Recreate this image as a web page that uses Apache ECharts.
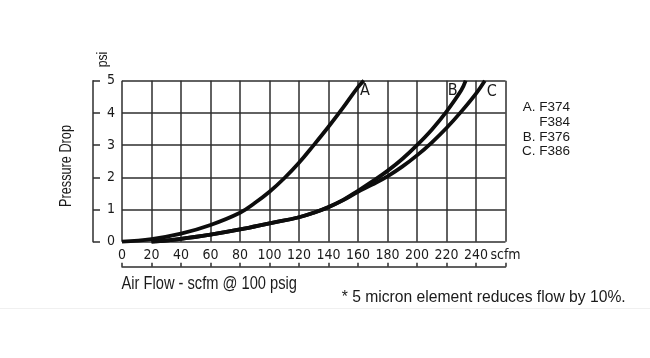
<!DOCTYPE html>
<html><head><meta charset="utf-8">
<script src="https://cdn.jsdelivr.net/npm/echarts@6/dist/echarts.min.js"></script>
<style>html,body{margin:0;padding:0;background:#fff}#c{width:650px;height:358px}</style>
</head><body><div id="c"></div>
<script>
// Air flow (scfm) vs pressure drop (psi)
var curveA = [[0,0],[20,0.08],[40,0.25],[60,0.52],[80,0.9],[90,1.2],[100,1.55],[110,1.97],[120,2.45],[130,3.0],[140,3.57],[150,4.17],[160,4.8],[164,5.0]];
var curveB = [[20,0],[40,0.09],[60,0.22],[80,0.38],[100,0.57],[120,0.76],[130,0.9],[140,1.08],[150,1.3],[160,1.58],[170,1.88],[180,2.2],[190,2.57],[200,3.0],[210,3.48],[220,4.04],[230,4.7],[233,5.0]];
var curveC = [[20,0],[40,0.09],[60,0.22],[80,0.38],[100,0.57],[120,0.76],[130,0.9],[140,1.07],[150,1.29],[160,1.55],[170,1.78],[180,2.03],[190,2.33],[200,2.68],[210,3.08],[220,3.53],[230,4.04],[240,4.6],[246,5.0]];
var curveNames = ['A','B','C'];
var xTicks = [0,20,40,60,80,100,120,140,160,180,200,220,240];
var xUnit = 'scfm';
var yTicks = [0,1,2,3,4,5];
var legendLines = ['A. F374','F384','B. F376','C. F386'];
var xTitle = 'Air Flow - scfm @ 100 psig';
var yTitle = 'Pressure Drop';
var yUnit = 'psi';
var footnote = '* 5 micron element reduces flow by 10%.';

var AXFONT = "'DejaVu Sans Condensed','Liberation Sans',sans-serif";
var GFONT = "'Liberation Sans',Arial,sans-serif";
var TXT = '#1a1a1a';
var GRID = '#2e2e2e';

var mctx = document.createElement('canvas').getContext('2d');
function fitScale(text, size, width){
  mctx.font = size + 'px ' + GFONT;
  return width / mctx.measureText(text).width;
}
function gtext(text, size, x, y, width, opts){
  opts = opts || {};
  var s = fitScale(text, size, width);
  return {type:'text', x:x, y:y, rotation:opts.rot||0, scaleX:s, scaleY:1, silent:true,
    style:{text:text, fill:TXT, font:size+'px '+GFONT, align:opts.align||'left', verticalAlign:'middle'}};
}

var chart = echarts.init(document.getElementById('c'), null, {renderer:'canvas'});
function mkSeries(name, data, off){
  return {type:'line', name:name, data:data, showSymbol:false, smooth:0.4,
    lineStyle:{color:'#0d0d0d', width:3.8}, clip:false,
    endLabel:{show:true, formatter:name, color:TXT, fontFamily:AXFONT, fontSize:16, offset:off, distance:0}};
}
var legendScale = fitScale(legendLines[0], 13.7, 47.3);
var graphics = [
  gtext(yUnit, 14, 103, 59.5, 15.6, {rot:Math.PI/2, align:'center'}),
  gtext(yTitle, 16.5, 66, 166, 82, {rot:Math.PI/2, align:'center'}),
  gtext(xTitle, 17.5, 121.5, 284.2, 175.5),
  gtext(footnote, 17, 341.7, 297.5, 284),
  {type:'line', silent:true, shape:{x1:0, y1:308.5, x2:650, y2:308.5}, style:{stroke:'#f0f0f0', lineWidth:1}}
];
legendLines.forEach(function(t, i){
  graphics.push({type:'text', x:570, y:107.5 + i*14.7, scaleX:legendScale, silent:true,
    style:{text:t, fill:TXT, font:'13.7px '+GFONT, align:'right', verticalAlign:'middle'}});
});

chart.setOption({
  animation:false,
  backgroundColor:'#fff',
  grid:{left:122, right:144.5, top:80.7, bottom:116.3},
  xAxis:{type:'value', min:0, max:260, interval:20, offset:25,
    axisLine:{show:true, onZero:false, lineStyle:{color:GRID, width:1.5}},
    axisTick:{show:true, inside:true, length:4, lineStyle:{color:GRID, width:1.5}},
    axisLabel:{inside:true, margin:4, color:TXT, fontFamily:AXFONT, fontSize:14,
      formatter:function(v){ return v===260 ? xUnit : (xTicks.indexOf(v)>=0 ? String(v) : ''); }},
    splitLine:{show:true, lineStyle:{color:GRID, width:1.5}}},
  yAxis:{type:'value', min:0, max:5, interval:1, offset:29,
    axisLine:{show:true, onZero:false, lineStyle:{color:GRID, width:1.5}},
    axisTick:{show:true, inside:true, length:7, lineStyle:{color:GRID, width:1.5}},
    axisLabel:{inside:true, margin:14, color:TXT, fontFamily:AXFONT, fontSize:14,
      formatter:function(v){ return yTicks.indexOf(v)>=0 ? String(v) : ''; }},
    splitLine:{show:true, lineStyle:{color:GRID, width:1.5}}},
  series:[mkSeries(curveNames[0], curveA, [-4,10]), mkSeries(curveNames[1], curveB, [-18,10]), mkSeries(curveNames[2], curveC, [2,11])],
  graphic:graphics
});
</script></body></html>
